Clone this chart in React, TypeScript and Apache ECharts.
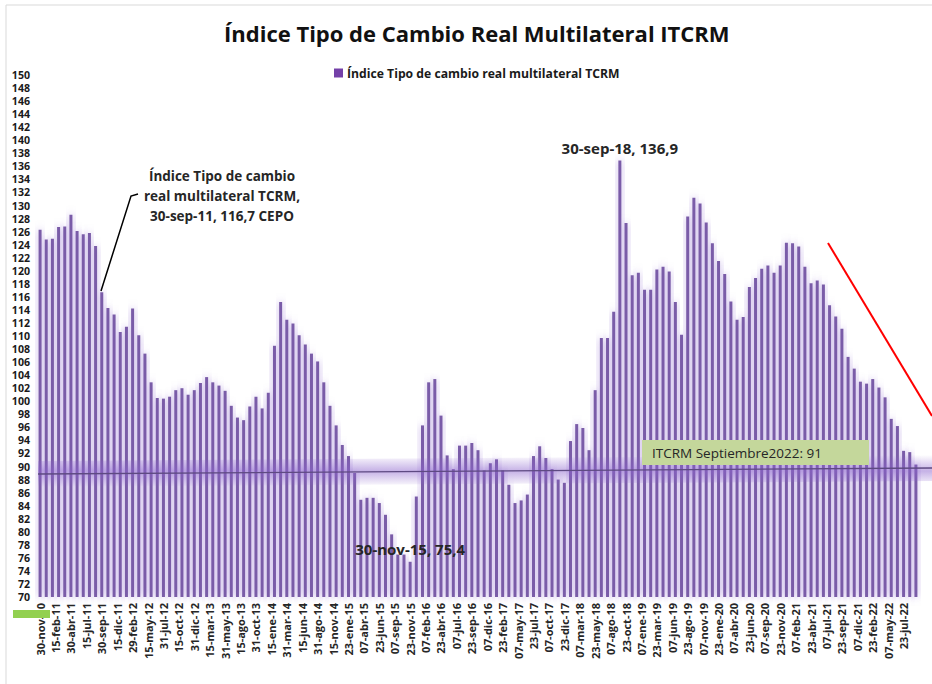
import React, { useEffect, useRef } from 'react';
import * as echarts from 'echarts';

const FONT = "'Open Sans', 'Noto Sans', sans-serif";

const MONTHS = ['ene', 'feb', 'mar', 'abr', 'may', 'jun', 'jul', 'ago', 'sep', 'oct', 'nov', 'dic'];

// Monthly categories: nov-10 .. sep-22
const categories: string[] = [];
for (let i = 0; i < 143; i++) {
  const m = (10 + i) % 12;
  const y = 2010 + Math.floor((10 + i) / 12);
  categories.push(`${MONTHS[m]}-${String(y % 100).padStart(2, '0')}`);
}

const seriesName = 'Índice Tipo de cambio real multilateral TCRM';

const itcrm: number[] = [
  126.3, 124.8, 124.9, 126.7, 126.8, 128.6, 126.1, 125.6, 125.8, 123.8,
  116.7, 114.3, 113.3, 110.6, 111.4, 114.2, 110.1, 107.3, 102.9, 100.5,
  100.4, 100.7, 101.7, 102.0, 101.0, 101.7, 102.8, 103.7, 102.9, 102.4,
  101.6, 99.3, 97.5, 97.1, 99.2, 100.7, 98.9, 101.3, 108.5, 115.2,
  112.5, 111.9, 110.1, 108.7, 107.3, 106.1, 102.9, 99.3, 96.3, 93.3,
  91.6, 89.0, 84.9, 85.2, 85.2, 84.4, 82.6, 79.6, 76.5, 76.5,
  75.4, 85.4, 96.3, 102.9, 103.4, 97.8, 91.7, 89.6, 93.2, 93.2,
  93.6, 92.5, 89.4, 90.5, 91.1, 89.4, 87.2, 84.4, 84.8, 85.7,
  91.6, 93.1, 91.3, 89.6, 88.0, 87.5, 93.9, 96.5, 95.9, 92.5,
  101.7, 109.7, 109.7, 113.7, 136.9, 127.3, 119.3, 119.7, 117.1, 117.1,
  120.2, 120.6, 119.9, 115.2, 110.2, 128.3, 131.2, 130.3, 127.4, 124.2,
  121.5, 119.5, 115.3, 112.5, 112.9, 117.5, 118.9, 120.3, 120.8, 119.7,
  120.8, 124.3, 124.2, 123.7, 120.6, 118.1, 118.5, 117.9, 114.7, 113.0,
  111.1, 106.8, 105.0, 103.0, 102.7, 103.4, 102.1, 100.6, 97.3, 96.2,
  92.4, 92.2, 90.3,
];

const tickLabels: string[] = [
  '30-nov-10', '15-feb-11', '30-abr-11', '15-jul-11', '30-sep-11', '15-dic-11',
  '29-feb-12', '15-may-12', '31-jul-12', '15-oct-12', '31-dic-12',
  '15-mar-13', '31-may-13', '15-ago-13', '31-oct-13',
  '15-ene-14', '31-mar-14', '15-jun-14', '31-ago-14', '15-nov-14',
  '23-ene-15', '07-abr-15', '23-jun-15', '07-sep-15', '23-nov-15',
  '07-feb-16', '23-abr-16', '07-jul-16', '23-sep-16', '07-dic-16',
  '23-feb-17', '07-may-17', '23-jul-17', '07-oct-17', '23-dic-17',
  '07-mar-18', '23-may-18', '07-ago-18', '23-oct-18',
  '07-ene-19', '23-mar-19', '07-jun-19', '23-ago-19', '07-nov-19',
  '23-ene-20', '07-abr-20', '23-jun-20', '07-sep-20', '23-nov-20',
  '07-feb-21', '23-abr-21', '07-jul-21', '23-sep-21', '07-dic-21',
  '23-feb-22', '07-may-22', '23-jul-22',
];
// label k sits 2.5 months after label k-1 (in bar-index units)
const tickStep = 2.5;
const tickPositions = tickLabels.map((_, k) => k * tickStep);

const peakLabels: Record<number, string> = {
  94: '30-sep-18, 136,9',
  60: '30-nov-15, 75,4',
};

export default function App() {
  const ref = useRef<HTMLDivElement>(null);

  useEffect(() => {
    document.body.style.margin = '0';
    if (!ref.current) return;
    const chart = echarts.init(ref.current, null, { renderer: 'svg' });

    const barData = itcrm.map((v, i) =>
      peakLabels[i]
        ? {
            value: v,
            label: {
              show: true,
              position: 'top',
              distance: 5,
              formatter: peakLabels[i],
              fontFamily: FONT,
              fontSize: 15,
              fontWeight: 'bold',
              color: '#262626',
            },
          }
        : v
    );

    chart.setOption({
      animation: false,
      backgroundColor: '#ffffff',
      textStyle: { fontFamily: FONT },
      title: {
        text: 'Índice Tipo de Cambio Real Multilateral ITCRM',
        left: 219,
        top: 17,
        textStyle: { fontFamily: FONT, fontSize: 22, fontWeight: 'bold', color: '#111111' },
      },
      legend: {
        left: 329,
        top: 62,
        icon: 'rect',
        itemWidth: 9,
        itemHeight: 9,
        itemGap: 5,
        data: [{ name: seriesName, itemStyle: { color: '#7440a8', shadowBlur: 0 } }],
        textStyle: { fontFamily: FONT, fontSize: 12.2, fontWeight: 'bold', color: '#1a1a1a', padding: [0, 0, 0, -1] },
      },
      grid: { left: 37, right: 13, top: 75, bottom: 87, containLabel: false },
      xAxis: [
        {
          type: 'category',
          data: categories,
          axisLine: { show: false },
          axisTick: { show: false },
          axisLabel: { show: false },
          splitLine: { show: false },
        },
        {
          type: 'value',
          position: 'bottom',
          min: -0.5,
          max: categories.length - 0.5,
          axisLine: { show: false },
          axisTick: { show: false },
          splitLine: { show: false },
          axisLabel: {
            customValues: tickPositions,
            rotate: 90,
            margin: 6,
            fontFamily: FONT,
            fontSize: 11,
            lineHeight: 12,
            fontWeight: 'bold',
            color: '#262626',
            formatter: (v: number) => tickLabels[Math.round(v / tickStep)] ?? '',
          },
        },
      ],
      yAxis: {
        type: 'value',
        min: 70,
        max: 150,
        interval: 2,
        axisLine: { show: false },
        axisTick: { show: false },
        splitLine: { show: false },
        axisLabel: {
          fontFamily: FONT,
          fontSize: 10.6,
          lineHeight: 11,
          fontWeight: 'bold',
          color: '#1a1a1a',
          margin: 7,
        },
      },
      series: [
        {
          name: seriesName,
          type: 'bar',
          xAxisIndex: 0,
          data: barData,
          barWidth: 3,
          itemStyle: {
            color: '#7a5ca8',
            shadowBlur: 8,
            shadowColor: 'rgba(150, 115, 210, 0.75)',
          },
        },
      ],
      graphic: [
        {
          type: 'polyline',
          silent: true,
          z: 1,
          shape: { points: [[6, 684], [6, 5], [932, 5]] },
          style: { stroke: '#d9d9d9', lineWidth: 1, fill: 'none' },
        },
        {
          type: 'polygon',
          silent: true,
          z: 50,
          shape: { points: [[38, 461], [932, 455], [932, 481], [38, 487]] },
          style: {
            fill: new echarts.graphic.LinearGradient(0, 0, 0, 1, [
              { offset: 0, color: 'rgba(140, 100, 205, 0)' },
              { offset: 0.5, color: 'rgba(140, 100, 205, 0.5)' },
              { offset: 1, color: 'rgba(140, 100, 205, 0)' },
            ]),
          },
        },
        {
          type: 'line',
          silent: true,
          z: 51,
          shape: { x1: 38, y1: 474, x2: 932, y2: 468 },
          style: { stroke: '#5e4a82', lineWidth: 1.3 },
        },
        {
          type: 'rect',
          silent: true,
          z: 60,
          shape: { x: 642, y: 440, width: 227, height: 25 },
          style: { fill: '#c4d79b' },
        },
        {
          type: 'text',
          silent: true,
          z: 61,
          x: 652,
          y: 453,
          style: {
            text: 'ITCRM Septiembre2022: 91',
            fontFamily: FONT,
            fontSize: 13.5,
            fill: '#262626',
            verticalAlign: 'middle',
          },
        },
        {
          type: 'line',
          silent: true,
          z: 60,
          shape: { x1: 828, y1: 243, x2: 932, y2: 416 },
          style: { stroke: '#ff0000', lineWidth: 2 },
        },
        {
          type: 'text',
          silent: true,
          z: 60,
          x: 222,
          y: 166,
          style: {
            text: 'Índice Tipo de cambio\nreal multilateral TCRM,\n30-sep-11, 116,7 CEPO',
            fontFamily: FONT,
            fontSize: 13.5,
            fontWeight: 'bold',
            lineHeight: 20,
            fill: '#262626',
            align: 'center',
            verticalAlign: 'top',
          },
        },
        {
          type: 'polyline',
          silent: true,
          z: 60,
          shape: { points: [[101, 291], [131, 196], [138, 194]] },
          style: { stroke: '#000000', lineWidth: 1.5, fill: 'none' },
        },
        {
          type: 'rect',
          silent: true,
          z: 60,
          shape: { x: 13, y: 610, width: 37, height: 8 },
          style: { fill: '#92d050' },
        },
      ],
    });

    return () => chart.dispose();
  }, []);

  return <div ref={ref} style={{ position: 'fixed', left: 0, top: 0, width: 932, height: 684 }} />;
}
